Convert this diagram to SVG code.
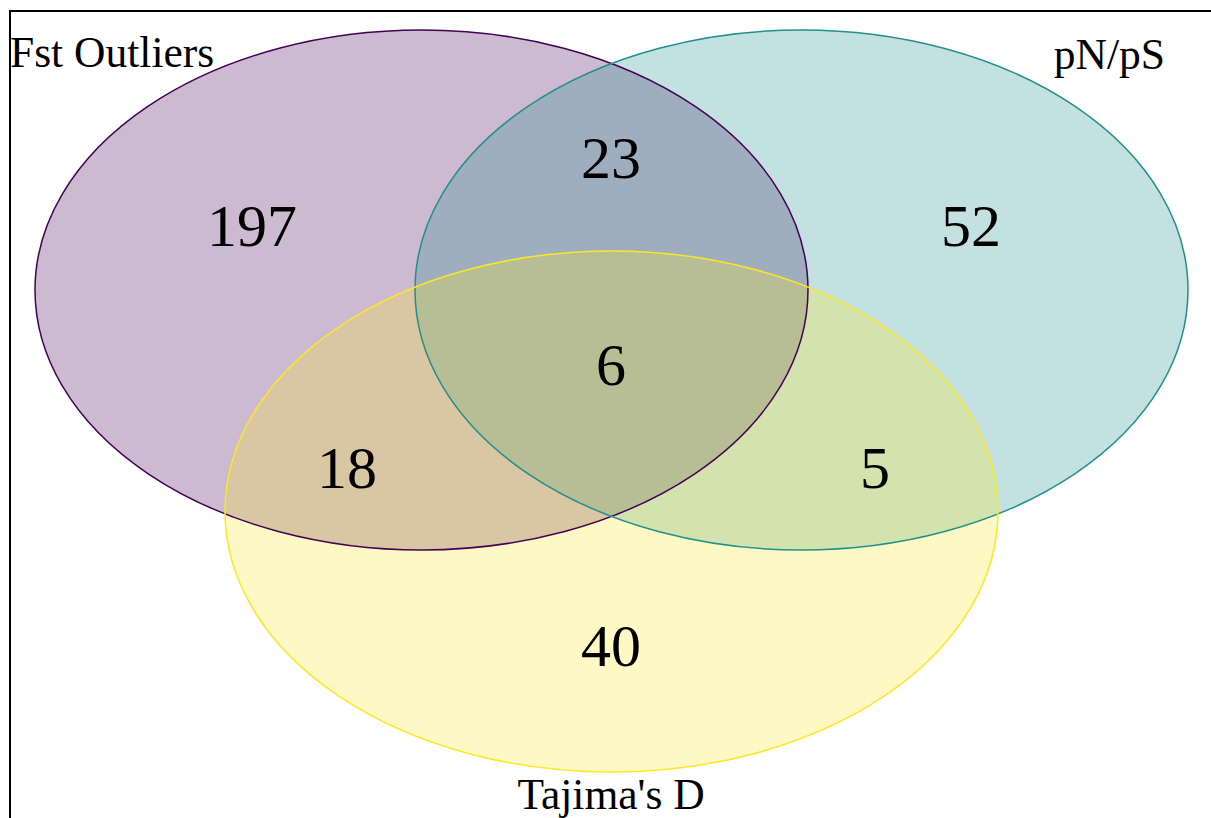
<svg xmlns="http://www.w3.org/2000/svg" width="1211" height="818" viewBox="0 0 1211 818">
<style>
.fill{stroke:none;fill-opacity:0.27}
.outline{fill:none;stroke-width:1.5}
.num{font-family:"Liberation Serif",serif;font-size:60px;text-anchor:middle;fill:#000}
.lab{font-family:"Liberation Serif",serif;font-size:43.5px;fill:#000}
</style>
<defs>
<ellipse id="e-fst" cx="421.5" cy="290" rx="386.5" ry="260"/>
<ellipse id="e-pnps" cx="801.5" cy="290" rx="386.5" ry="260"/>
<ellipse id="e-taj" cx="611.5" cy="511.5" rx="386.5" ry="260.5"/>
</defs>
<rect x="0" y="0" width="1211" height="818" fill="#fff"/>
<path d="M10,818 V11 H1211" fill="none" stroke="#000" stroke-width="2"/>
<g id="set-fst"><use href="#e-fst" class="fill" fill="#440154"/></g>
<g id="set-pnps"><use href="#e-pnps" class="fill" fill="#21908C"/></g>
<g id="set-tajima"><use href="#e-taj" class="fill" fill="#FDE725"/></g>
<g id="outlines">
<use href="#e-fst" class="outline" stroke="#440154"/>
<use href="#e-pnps" class="outline" stroke="#21908C"/>
<use href="#e-taj" class="outline" stroke="#FDE725"/>
</g>
<g id="counts">
<text class="num" x="252" y="246">197</text>
<text class="num" x="611" y="178">23</text>
<text class="num" x="971" y="246">52</text>
<text class="num" x="611" y="385">6</text>
<text class="num" x="347" y="488">18</text>
<text class="num" x="875" y="488">5</text>
<text class="num" x="611" y="666">40</text>
</g>
<g id="labels">
<text class="lab" x="10" y="67">Fst Outliers</text>
<text class="lab" x="1165" y="69" text-anchor="end">pN/pS</text>
<text class="lab" x="611" y="809" text-anchor="middle">Tajima's D</text>
</g>
</svg>
